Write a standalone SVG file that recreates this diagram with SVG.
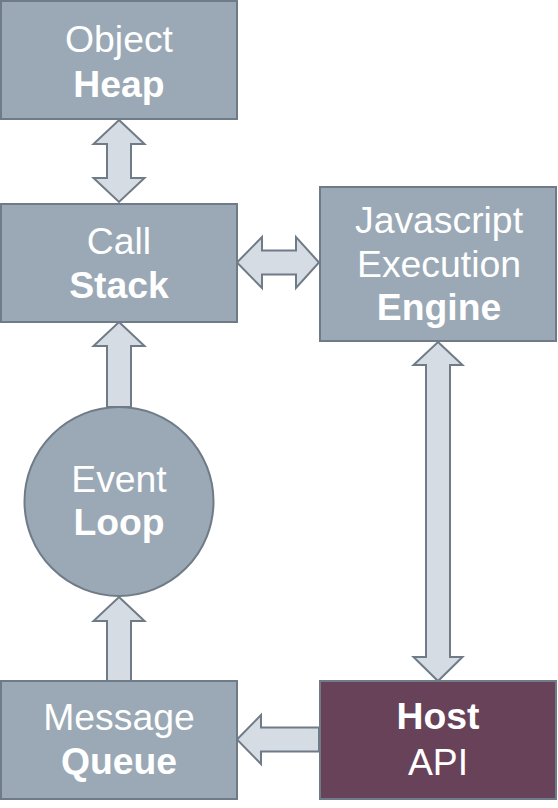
<svg xmlns="http://www.w3.org/2000/svg" width="558" height="808" viewBox="0 0 558 808">
<style>
.box{fill:#9aa9b5;stroke:#6f7b86;stroke-width:2}
.host{fill:#674259;stroke:#6f7b86;stroke-width:2}
.arr{fill:#d6dce4;stroke:#6f7b86;stroke-width:2;stroke-linejoin:miter}
text{font-family:"Liberation Sans",Arial,sans-serif;font-size:37.33px;fill:#ffffff;text-anchor:middle}
.b{font-weight:bold}
</style>
<rect width="558" height="808" fill="#ffffff"/>
<g id="connectors">
<path class="arr" d="M119,120 L144.5,144 L131,144 L131,178 L144.5,178 L119,202 L93.5,178 L107,178 L107,144 L93.5,144 Z"/>
<path class="arr" d="M237,262.5 L262,237 L262,250.5 L296,250.5 L296,237 L319,262.5 L296,288 L296,274.5 L262,274.5 L262,288 Z"/>
<path class="arr" d="M119,322 L144.5,346 L131,346 L131,407 L107,407 L107,346 L93.5,346 Z"/>
<path class="arr" d="M119,597 L144.5,621 L131,621 L131,681 L107,681 L107,621 L93.5,621 Z"/>
<path class="arr" d="M438,342 L462.5,365 L450,365 L450,657 L462.5,657 L438,681 L413.5,657 L426,657 L426,365 L413.5,365 Z"/>
<path class="arr" d="M237,739.5 L261,715 L261,727.5 L319,727.5 L319,751.5 L261,751.5 L261,764 Z"/>
</g>
<g id="object-heap">
<rect class="box" x="1" y="1" width="236" height="118"/>
<text x="119" y="52">Object</text>
<text class="b" x="119" y="97">Heap</text>
</g>
<g id="call-stack">
<rect class="box" x="1" y="204" width="236" height="118"/>
<text x="119" y="254">Call</text>
<text class="b" x="119" y="298">Stack</text>
</g>
<g id="js-engine">
<rect class="box" x="320" y="187" width="236" height="154"/>
<text x="439" y="233">Javascript</text>
<text x="439" y="277">Execution</text>
<text class="b" x="439" y="320">Engine</text>
</g>
<g id="event-loop">
<circle class="box" cx="119" cy="501.5" r="94.5"/>
<text x="119" y="492">Event</text>
<text class="b" x="119" y="535">Loop</text>
</g>
<g id="message-queue">
<rect class="box" x="1" y="681" width="236" height="118"/>
<text x="119" y="730">Message</text>
<text class="b" x="119" y="774">Queue</text>
</g>
<g id="host-api">
<rect class="host" x="320" y="681" width="236" height="118"/>
<text class="b" x="438" y="729">Host</text>
<text x="438" y="775">API</text>
</g>
</svg>
